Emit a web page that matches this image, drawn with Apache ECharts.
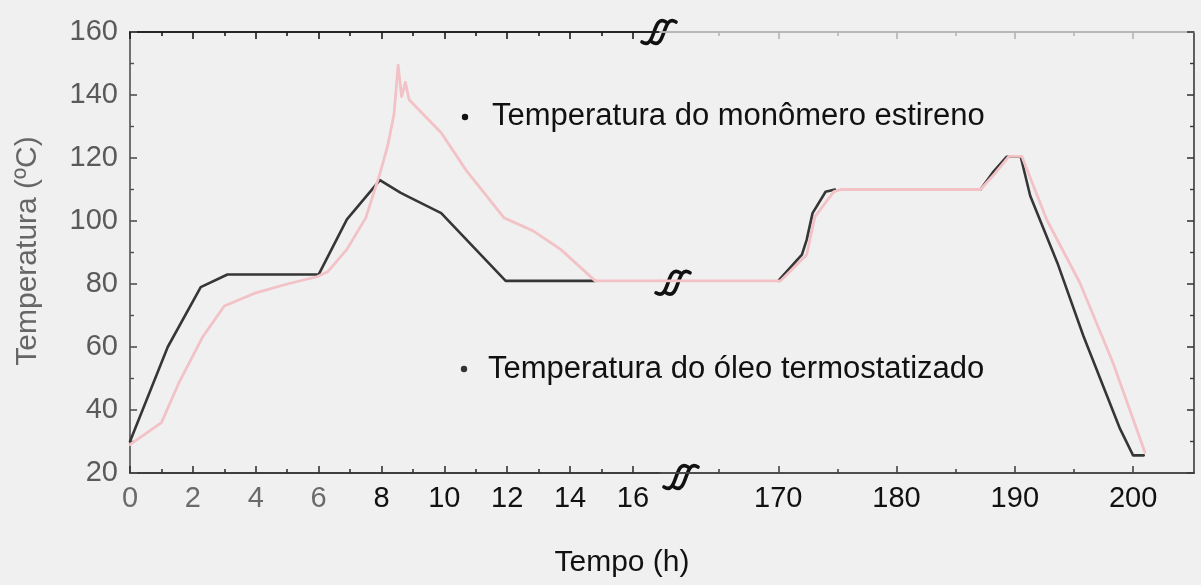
<!DOCTYPE html>
<html>
<head>
<meta charset="utf-8">
<script src="https://cdn.jsdelivr.net/npm/echarts@6/dist/echarts.min.js"></script>
<style>
  html, body { margin: 0; padding: 0; background: #f0f0f0; }
  #chart { width: 1201px; height: 585px; }
</style>
</head>
<body>
<div id="chart"></div>
<script>
// Trecho inicial do ensaio (0–17 h)
const oleoHorasA = [0, 1.2, 2.25, 3.1, 6.0, 6.9, 7.95, 8.6, 8.8, 9.9, 11.95, 14.8];
const oleoTempA  = [30, 60, 79, 83, 83, 100.5, 113, 109, 108, 102.5, 81, 81];

const estirenoHorasA = [0, 1.0, 1.55, 2.3, 3.0, 3.95, 5.0, 5.95, 6.3, 6.9, 7.5, 7.95, 8.2, 8.4, 8.53, 8.64, 8.76, 8.88, 9.9, 10.7, 11.9, 12.8, 13.7, 14.8, 16.86];
const estirenoTempA  = [29, 36, 48.5, 63, 73, 77, 80, 82.3, 84, 91, 101, 115, 124, 134, 149.5, 139.5, 144, 138.5, 128, 116, 101, 97, 91, 81, 81];

// Trecho final do ensaio (160–205 h); null interrompe a curva do óleo
const oleoHorasB = [170, 172, 172.4, 172.9, 174, 174.8, 180, 187.1, 188.2, 189.3, 189.9, 190.5, 191.3, 193.6, 195.8, 198.9, 200, 200.9];
const oleoTempB  = [81, 89.3, 94, 102.5, 109.3, 110, null, 110, 115.7, 120.4, 120.5, 120.4, 108, 86.7, 63.5, 34, 25.6, 25.6];

const estirenoHorasB = [160, 170.2, 172.4, 173.1, 174.7, 175.3, 187.1, 188.3, 189.5, 190.6, 192.7, 195.5, 198.3, 200.6, 201];
const estirenoTempB  = [81, 81, 89.3, 101.4, 109.3, 110, 110, 115, 120.5, 120.5, 100.4, 80.4, 55, 30.8, 26.6];

// Marcas dos eixos
const ticksA = [0, 2, 4, 6, 8, 10, 12, 14, 16];
const minorA = [1, 3, 5, 7, 9, 11, 13, 15];
const ticksB = [170, 180, 190, 200];
const minorB = [165, 175, 185, 195];
const yMin = 20, yMax = 160, yStep = 20;

const rotulos = {
  x: 'Tempo (h)',
  y: 'Temperatura (ºC)',
  estireno: 'Temperatura do monômero estireno',
  oleo: 'Temperatura do óleo termostatizado'
};

const FONTE = "'Liberation Sans', Arial, Helvetica, sans-serif";
const pares = (xs, ys) => xs.map((x, i) => [x, ys[i]]);

// Quatro eixos x por grade: base/topo, cada um com marcas maiores e menores
function eixosX(gridIndex, min, max, major, minor, corBase, corTopo, corRotulo) {
  const eixo = (position, cor, valores, comp, comRotulo) => ({
    type: 'value', gridIndex, position, min, max,
    axisLine: { show: true, onZero: false, lineStyle: { color: cor, width: 1.6 } },
    axisTick: { show: true, inside: true, length: comp, customValues: valores,
                lineStyle: { color: cor, width: 1.6 } },
    axisLabel: comRotulo
      ? { show: true, customValues: major, margin: 11, fontSize: 29, fontFamily: FONTE, color: corRotulo }
      : { show: false },
    splitLine: { show: false }
  });
  return [
    eixo('bottom', corBase, major, 7, true),
    eixo('bottom', corBase, minor, 4, false),
    eixo('top', corTopo, major, 7, false),
    eixo('top', corTopo, minor, 4, false)
  ];
}

function eixoY(gridIndex, position, cor, comRotulo) {
  return {
    type: 'value', gridIndex, position, min: yMin, max: yMax, interval: yStep,
    axisLine: { show: true, onZero: false, lineStyle: { color: cor, width: 1.6 } },
    axisTick: { show: true, inside: true, length: 7, lineStyle: { color: cor, width: 1.6 } },
    minorTick: { show: true, splitNumber: 2, length: 4, lineStyle: { color: cor, width: 1.4 } },
    axisLabel: comRotulo
      ? { show: true, margin: 12, fontSize: 29, fontFamily: FONTE, color: '#5a5a5a' }
      : { show: false },
    splitLine: { show: false },
    minorSplitLine: { show: false }
  };
}

const linha = (cor, largura, z) => ({
  type: 'line', showSymbol: false, symbol: 'none', connectNulls: false, z,
  lineStyle: { color: cor, width: largura, cap: 'round', join: 'round' },
  emphasis: { disabled: true }
});

const COR_OLEO = '#363636';
const COR_ESTIRENO = '#f2c2c6';

const chart = echarts.init(document.getElementById('chart'), null, { renderer: 'canvas' });

const option = {
  animation: false,
  backgroundColor: '#f0f0f0',
  grid: [
    { left: 130, top: 32, width: 530, height: 441, outerBoundsMode: 'none', containLabel: false },
    { left: 660, top: 32, width: 534, height: 441, outerBoundsMode: 'none', containLabel: false }
  ],
  xAxis: [
    ...eixosX(0, 0, 16.86, ticksA, minorA, '#333', '#1a1a1a',
              (v) => (v < 8 ? '#6a6a6a' : '#111')),
    ...eixosX(1, 160, 205.15, ticksB, minorB, '#444', '#b4b4b4', '#111')
  ],
  yAxis: [
    eixoY(0, 'left', '#505050', true),
    eixoY(1, 'right', '#3a3a3a', false)
  ],
  series: [
    { ...linha(COR_OLEO, 2.6, 2), name: rotulos.oleo, xAxisIndex: 0, yAxisIndex: 0,
      data: pares(oleoHorasA, oleoTempA) },
    { ...linha(COR_ESTIRENO, 2.8, 3), name: rotulos.estireno, xAxisIndex: 0, yAxisIndex: 0,
      data: pares(estirenoHorasA, estirenoTempA) },
    { ...linha(COR_OLEO, 2.6, 2), name: rotulos.oleo, xAxisIndex: 4, yAxisIndex: 1,
      data: pares(oleoHorasB, oleoTempB) },
    { ...linha(COR_ESTIRENO, 2.8, 3), name: rotulos.estireno, xAxisIndex: 4, yAxisIndex: 1,
      data: pares(estirenoHorasB, estirenoTempB) }
  ]
};

chart.setOption(option);

// Símbolo de quebra de escala (dois traços em "S")
function quebra(cx, cy) {
  return {
    type: 'group', x: cx, y: cy, z: 100,
    children: [0, 10].map((dx) => ({
      type: 'bezierCurve',
      shape: { x1: dx - 12, y1: 12, cpx1: dx + 2, cpy1: 21, cpx2: dx - 2, cpy2: -17, x2: dx + 12, y2: -8 },
      style: { stroke: '#111', lineWidth: 3.6, fill: null, lineCap: 'round' }
    }))
  };
}

const [bx, yLinha] = chart.convertToPixel({ seriesIndex: 3 }, [160, estirenoTempB[0]]);
const yTopo = chart.convertToPixel({ seriesIndex: 3 }, [160, yMax])[1];
const yBase = chart.convertToPixel({ seriesIndex: 3 }, [160, yMin])[1];

chart.setOption({
  graphic: [
    quebra(bx - 6, yTopo - 2),
    quebra(bx + 8, yLinha),
    quebra(bx + 16, yBase + 2),
    { type: 'circle', shape: { cx: 465, cy: 117, r: 3.2 }, style: { fill: '#111' }, z: 50 },
    { type: 'text', x: 492, y: 116, z: 50,
      style: { text: rotulos.estireno, fontSize: 31, fontFamily: FONTE, fill: '#111',
               align: 'left', verticalAlign: 'middle' } },
    { type: 'circle', shape: { cx: 464, cy: 369, r: 3.2 }, style: { fill: '#333' }, z: 50 },
    { type: 'text', x: 488, y: 369, z: 50,
      style: { text: rotulos.oleo, fontSize: 31, fontFamily: FONTE, fill: '#111',
               align: 'left', verticalAlign: 'middle' } },
    { type: 'text', x: 622, y: 563, z: 50,
      style: { text: rotulos.x, fontSize: 30, fontFamily: FONTE, fill: '#111',
               align: 'center', verticalAlign: 'middle' } },
    { type: 'text', x: 28, y: 251, rotation: Math.PI / 2, z: 50,
      style: { text: rotulos.y, fontSize: 30, fontFamily: FONTE, fill: '#666',
               align: 'center', verticalAlign: 'middle' } }
  ]
});
</script>
</body>
</html>
